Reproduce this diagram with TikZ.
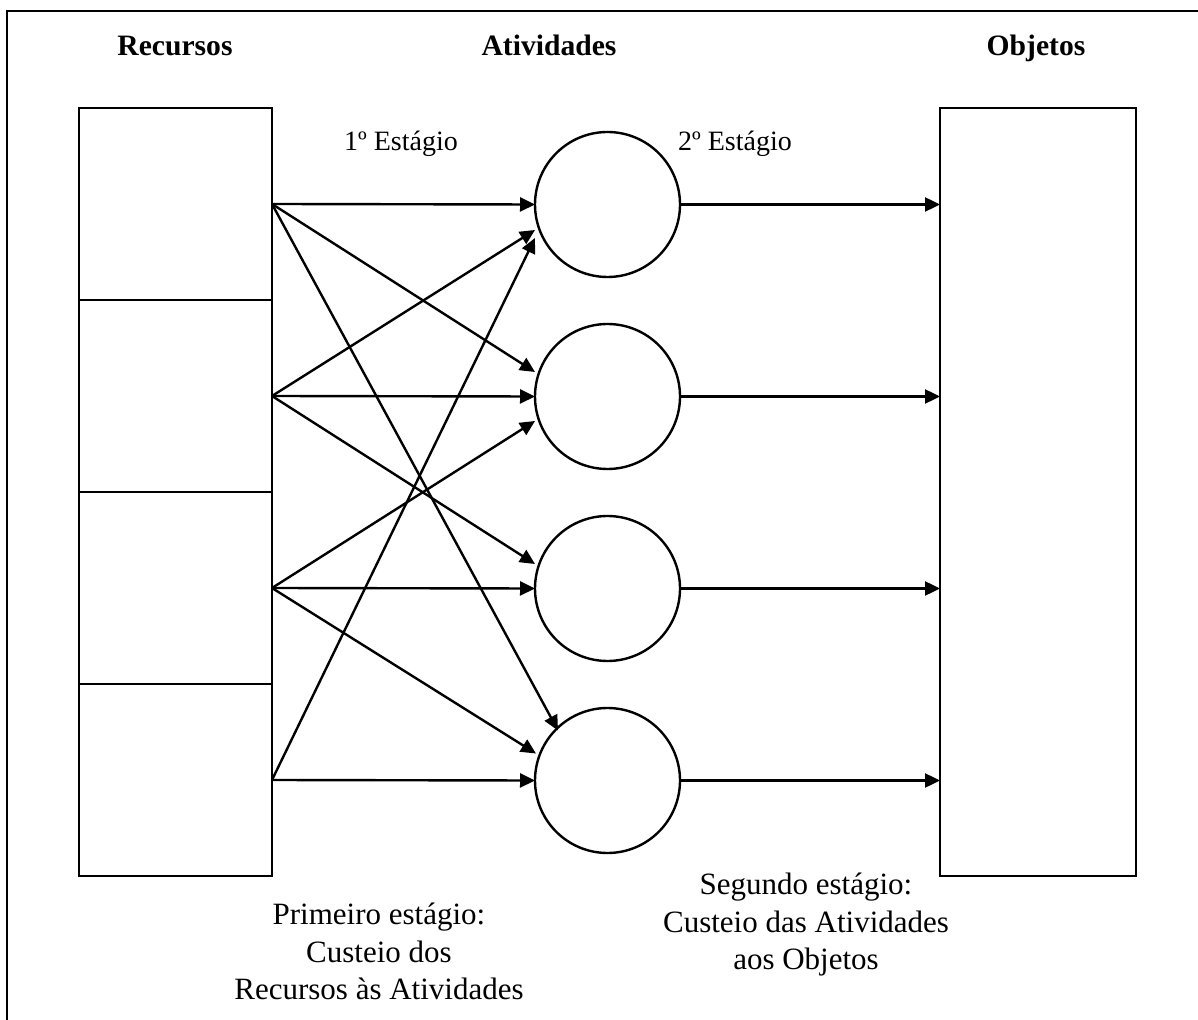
\documentclass[tikz,border=0pt]{standalone}
\usepackage{fontspec}
\setmainfont{Liberation Serif}
\usetikzlibrary{arrows.meta,calc}
\begin{document}
\begin{tikzpicture}[x=0.5pt,y=-0.5pt,
  cell/.style={draw,rectangle,line width=1.2pt,inner sep=0pt,outer sep=0pt,
               minimum width=96.5pt,minimum height=96pt},
  objbox/.style={draw,rectangle,line width=1.2pt,inner sep=0pt,outer sep=0pt,
               minimum width=98pt,minimum height=384pt},
  act/.style={draw,circle,line width=1.2pt,inner sep=0pt,outer sep=0pt,
              minimum size=72.5pt},
  flow/.style={line width=1.2pt,-{Triangle[length=7.5pt,width=7pt]}},
  head/.style={font=\fontsize{14.8}{17}\selectfont\bfseries,anchor=base,inner sep=0pt},
  stage/.style={font=\fontsize{14}{16}\selectfont,anchor=base,inner sep=0pt},
  note/.style={font=\fontsize{15.5}{18.75}\selectfont,align=center,anchor=north,inner sep=0pt}]
\useasboundingbox (0,0) rectangle (1198,1020);

% outer frame (top rule and left rule)
\coordinate (fa) at (6,11);
\coordinate (fb) at (78,11);
\coordinate (fc) at (1138,11);
\coordinate (fd) at (1198,11);
\coordinate (fe) at (7,1020);
\draw[line width=0.6pt] (fb) -- (fc);
\draw[line width=1.2pt] (fa) -- (fb);
\draw[line width=1.2pt] (fc) -- (fd);
\draw[line width=1.2pt] (7,11) -- (fe);

% column headings
\node[head] (hres) at (175,56) {Recursos};
\node[head] (hact) at (549,56) {Atividades};
\node[head] (hobj) at (1036,56) {Objetos};

% stage labels
\node[stage] (s1) at (401,151) {1º Estágio};
\node[stage] (s2) at (735,151) {2º Estágio};

% resources column
\node[cell] (r1) at (175.5,204) {};
\node[cell] (r2) at (175.5,396) {};
\node[cell] (r3) at (175.5,588) {};
\node[cell] (r4) at (175.5,780) {};

% cost objects
\node[objbox] (obj) at (1038,492) {};

% activities
\node[act] (c1) at (607.5,204.5) {};
\node[act] (c2) at (607.5,396.5) {};
\node[act] (c3) at (607.5,588.5) {};
\node[act] (c4) at (607.5,780.5) {};

% first stage: resources to activities
\draw[flow] (r1.east) -- (c1.west);
\draw[flow] (r1.east) -- ($(c2.center)+(-72.5,-24.5)$);
\draw[flow] (r1.east) -- ($(c4.center)+(-49.5,-50)$);

\draw[flow] (r2.east) -- ($(c1.center)+(-72.5,25.5)$);
\draw[flow] (r2.east) -- (c2.west);
\draw[flow] (r2.east) -- ($(c3.center)+(-72.5,-24.5)$);

\draw[flow] (r3.east) -- ($(c2.center)+(-72.5,24.5)$);
\draw[flow] (r3.east) -- (c3.west);
\draw[flow] (r3.east) -- ($(c4.center)+(-71.5,-27)$);

\draw[flow] (r4.east) -- ($(c1.center)+(-72.5,33.5)$);
\draw[flow] (r4.east) -- (c4.west);

% second stage: activities to objects
\draw[flow] (c1.east) -- (obj.west |- c1.east);
\draw[flow] (c2.east) -- (obj.west |- c2.east);
\draw[flow] (c3.east) -- (obj.west |- c3.east);
\draw[flow] (c4.east) -- (obj.west |- c4.east);

% explanatory notes
\node[note] (n1) at (379,903) {Primeiro estágio:\\Custeio dos\\Recursos às Atividades};
\node[note] (n2) at (806,873) {Segundo estágio:\\Custeio das Atividades\\aos Objetos};
\end{tikzpicture}
\end{document}
